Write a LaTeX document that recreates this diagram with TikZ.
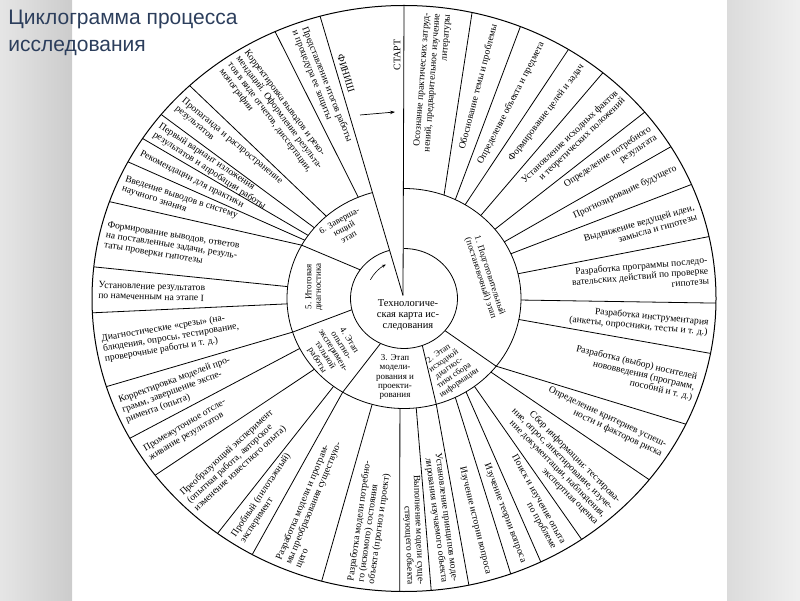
\documentclass[tikz,border=0pt]{standalone}
\usepackage{fontspec}
\setmainfont{Liberation Serif}
\newfontfamily\titlefont{Liberation Sans}
\usetikzlibrary{arrows.meta}
\definecolor{titleblue}{RGB}{44,62,92}

\begin{document}
\begin{tikzpicture}[x=1pt, y=1pt, line width=0.8pt,
  every node/.style={font=\fontsize{9.6}{10.4}\selectfont, inner sep=0pt},
  itemr/.style={sloped, allow upside down, anchor=east, align=right},
  iteml/.style={sloped, allow upside down, anchor=west, align=left},
  stage/.style={font=\fontsize{9}{9.4}\selectfont, align=center}]
\useasboundingbox (0,0) rectangle (800,600);
\fill[left color=gray!20, right color=gray!40] (0,0) rectangle (72,600);
\fill[left color=gray!28, right color=gray!12] (727,0) rectangle (800,600);
\node[anchor=north west, align=left, text=titleblue, font=\titlefont\fontsize{21}{27}\selectfont] (title) at (8,590) {Циклограмма процесса\\исследования};

\begin{scope}[shift={(404,301.5)}]
  % circles
  \draw[line width=1pt] (0,0) ellipse[x radius=312, y radius=293];
  \draw (106:117 and 110) arc[start angle=106, end angle=450, x radius=117, y radius=110];
  \draw (106:53.5 and 50) arc[start angle=106, end angle=450, x radius=53.5, y radius=50];
  % start wedge
  \coordinate (tip) at (-1,3);
  \coordinate (wr) at (90:312 and 293);
  \coordinate (wl) at (105.6:312 and 293);
  \draw (tip) -- (wr);
  \draw (tip) -- (wl);
  % stage borders
  \foreach \i/\o in {-40/-38, -70/-74, -116/-121.6, 193/197.8, 145/151}
    \draw (\i:53.5 and 50) -- (\o:117 and 110);
  % spokes: ring angle / rim angle
  \foreach \i/\o in {70/77.4, 64/68.1, 58.5/58.2, 49/50.4, 39/39.5, 31/31.2, 24/22.9, 13/12.2,
      -0.8/-0.9, -11/-10.8, -38/-25.4, -42/-38.2, -53/-55.3, -58/-64, -64/-70, -74/-78,
      -84/-85, -92/-90.8, -105.8/-105.3, -121.6/-119.1, -127/-126.7, -140/-142.9,
      -153/-151.5, 197.8/197.5, 182.8/182.8, 173.8/173.8, 151/160.7, 148/152.2,
      145/146.9, 140/141.1, 131.6/133.4, 113/114.4}
    \draw (\i:117 and 110) -- (\o:312 and 293);
  % steps on the right half
  \foreach \i/\o/\txt [count=\n] in {
      80/83.7/{Осознание практических затруд-\\нений, предварительное изучение\\литературы},
      67/72.75/{Обоснование темы и проблемы},
      61.25/63.15/{Определение объекта и предмета},
      53.75/54.3/{Формирование целей и задач},
      44/44.95/{Установление исходных фактов\\и теоретических положений},
      35/35.35/{Определение потребного\\результата},
      27.5/27.05/{Прогнозирование будущего},
      18.5/17.55/{Выдвижение ведущей идеи,\\замысла и гипотезы},
      6.1/5.65/{Разработка программы последо-\\вательских действий по проверке\\гипотезы},
      -5.9/-5.85/{Разработка инструментария\\(анкеты, опросники, тесты и т. д.)},
      -24.5/-18.1/{Разработка (выбор) носителей\\нововведения (программ,\\пособий и т. д.)},
      -40/-31.8/{Определение критериев успеш-\\ности и факторов риска},
      -50/-48.2/{Сбор информации: тестирова-\\ние, опрос, анкетирование, изуче-\\ние документации, наблюдения,\\экспертная оценка},
      -55.5/-59.65/{Поиск и изучение опыта\\по проблеме},
      -61/-67/{Изучение теории вопроса},
      -69/-74/{Изучение истории вопроса},
      -79/-81.5/{Установление принципов моде-\\лирования изучаемого объекта},
      -88/-87.9/{Выполнение модели суще-\\ствующего объекта}}
    \path (\i:117 and 110) -- (\o:306 and 287) node[itemr, pos=1] (r\n) {\txt};
  % steps on the left half
  \foreach \i/\o/\txt [count=\n] in {
      261.1/261.95/{Разработка модели потребно-\\го (искомого) состояния\\объекта (прогноз и проект)},
      246.3/247.8/{Разработка модели и програм-\\мы преобразования существую-\\щего},
      235.7/237.1/{Пробный (пилотажный)\\эксперимент},
      226.5/225.2/{Преобразующий эксперимент\\(опытная работа, авторское\\изменение известного опыта)},
      213.5/212.8/{Промежуточное отсле-\\живание результатов},
      205.4/203/{Корректировка моделей про-\\грамм, завершение экспе-\\римента (опыта)},
      190.3/190.15/{Диагностические «срезы» (на-\\блюдения, опросы, тестирование,\\проверочные работы и т. д.)},
      178.3/178.3/{Установление результатов\\по намеченным на этапе I},
      162.4/167.25/{Формирование выводов, ответов\\на поставленные задачи, резуль-\\таты проверки гипотезы},
      149.5/156.45/{Введение выводов в систему\\научного знания},
      146.5/149.55/{Рекомендации для практики},
      142.5/144/{Первый вариант изложения\\результатов и апробации работы},
      135.8/137.25/{Пропаганда и распространение\\результатов},
      122.3/123.9/{Корректировка выводов и реко-\\мендаций. Оформление результа-\\тов в виде отчетов, диссертации,\\монографии},
      109.5/110/{Представление итогов работы\\и процедура ее защиты}}
    \path (\o:306 and 287) -- (\i:117 and 110) node[iteml, pos=0] (l\n) {\txt};
  % stages
  \node[stage, rotate=-72] (s1) at (81,21.5) {1. Подготовительный\\(постановочный) этап};
  \node[stage, rotate=35, font=\fontsize{8.5}{8.9}\selectfont] (s2) at (45,-70) {2. Этап\\исходной\\диагнос-\\тики сбора\\информации};
  \node[stage] (s3) at (-9,-78.5) {3. Этап\\модели-\\рования и\\проекти-\\рования};
  \node[stage, rotate=-58] (s4) at (-71,-52) {4. Этап\\опытно-\\эксперимен-\\тальной\\работы};
  \node[stage, rotate=90] (s5) at (-90,11.5) {5. Итоговая\\диагностика};
  \node[stage, rotate=30] (s6) at (-60,70) {6. Заверша-\\ющий\\этап};
  % centre
  \node[align=center, font=\fontsize{10.5}{10.8}\selectfont] (map) at (4,-16.5) {Технологиче-\\ская карта ис-\\следования};
  \coordinate (c1) at (151:38.5);
  \draw[line width=0.6pt, -{Stealth[length=4pt, width=3pt]}] (c1) arc[start angle=151, end angle=118, radius=38.5];
  % start and finish
  \node[rotate=90, font=\fontsize{10}{10}\selectfont] (start) at (-7,243.5) {СТАРТ};
  \node[rotate=-73, font=\fontsize{10}{10}\selectfont] (finish) at (-58,225) {ФИНИШ};
  \coordinate (a1) at (-44,183.5);
  \coordinate (a2) at (-9,186.5);
  \draw[line width=0.7pt, -{Stealth[length=5pt, width=3.5pt]}] (a1) -- (a2);
\end{scope}
\end{tikzpicture}
\end{document}
